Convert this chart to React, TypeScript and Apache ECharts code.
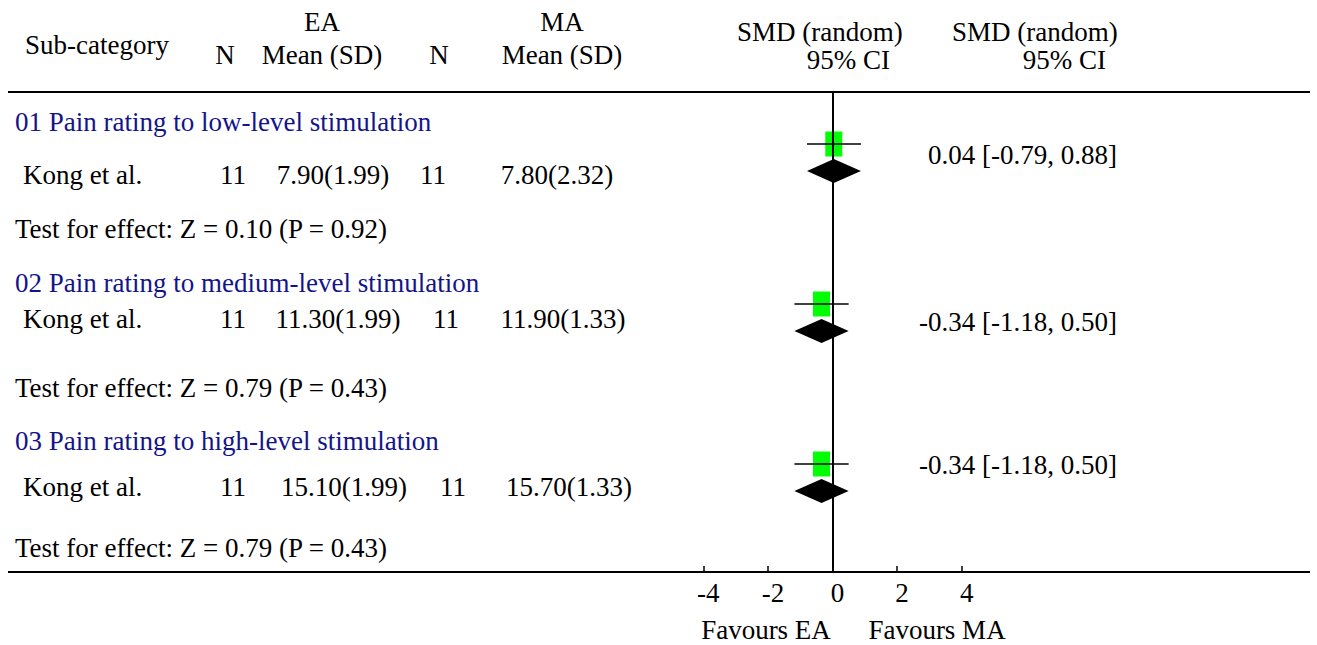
import React, { useEffect, useRef } from "react";
import * as echarts from "echarts";

// ---- data ----
const groupTitles = [
  "01 Pain rating to low-level stimulation",
  "02 Pain rating to medium-level stimulation",
  "03 Pain rating to high-level stimulation",
];
const studyNames = ["Kong et al.", "Kong et al.", "Kong et al."];
const eaN = [11, 11, 11];
const eaMeanSD = ["7.90(1.99)", "11.30(1.99)", "15.10(1.99)"];
const maN = [11, 11, 11];
const maMeanSD = ["7.80(2.32)", "11.90(1.33)", "15.70(1.33)"];
const smd = [0.04, -0.34, -0.34];
const ciLower = [-0.79, -1.18, -1.18];
const ciUpper = [0.88, 0.5, 0.5];
const testTexts = [
  "Test for effect: Z = 0.10 (P = 0.92)",
  "Test for effect: Z = 0.79 (P = 0.43)",
  "Test for effect: Z = 0.79 (P = 0.43)",
];
const xTicks = [-4, -2, 0, 2, 4];
const favourLabels = ["Favours EA", "Favours MA"];

// ---- layout (pixels) ----
const FONT = '"Liberation Serif", "DejaVu Serif", serif';
const FS = 27;
const W = 1317;
const H = 645;
const TOP_RULE = 92;
const BOTTOM_RULE = 572;
const GRID_LEFT = 703.3;
const GRID_RIGHT_X = 961.7;
const rowLayout = [
  { title: 122, study: 175, n1: 233, m1: 333, n2: 433, m2: 557, ci: 155, test: 229, sq: 144, dm: 171 },
  { title: 283, study: 319, n1: 233, m1: 338, n2: 446, m2: 563, ci: 322, test: 388, sq: 304, dm: 331 },
  { title: 441, step: 0, study: 487, n1: 233, m1: 344, n2: 453, m2: 569, ci: 465, test: 548, sq: 464, dm: 491 },
];

const fmt = (v: number) => v.toFixed(2);

function txt(text: string, x: number, y: number, align = "left", color = "#000") {
  return {
    type: "text",
    x,
    y,
    silent: true,
    style: {
      text,
      textAlign: align,
      textVerticalAlign: "middle",
      font: `${FS}px ${FONT}`,
      fill: color,
    },
  };
}

export default function App() {
  const ref = useRef<HTMLDivElement>(null);

  useEffect(() => {
    if (!ref.current) return;
    const chart = echarts.init(ref.current, undefined, { renderer: "svg" });

    const graphics: any[] = [
      { type: "line", shape: { x1: 8, y1: TOP_RULE, x2: 1310, y2: TOP_RULE }, style: { stroke: "#000", lineWidth: 2 } },
      { type: "line", shape: { x1: 8, y1: BOTTOM_RULE, x2: 1310, y2: BOTTOM_RULE }, style: { stroke: "#000", lineWidth: 2 } },
      txt("Sub-category", 25, 45),
      txt("EA", 322, 22, "center"),
      txt("N", 225, 55, "center"),
      txt("Mean (SD)", 322, 55, "center"),
      txt("MA", 562, 22, "center"),
      txt("N", 439, 55, "center"),
      txt("Mean (SD)", 562, 55, "center"),
      txt("SMD (random)", 737, 32),
      txt("95% CI", 890, 59.5, "right"),
      txt("SMD (random)", 952, 32),
      txt("95% CI", 1106, 59.5, "right"),
      txt(favourLabels[0], 766, 630, "center"),
      txt(favourLabels[1], 937, 630, "center"),
    ];
    groupTitles.forEach((t, i) => {
      const L = rowLayout[i];
      graphics.push(txt(t, 15, L.title, "left", "#14148a"));
      graphics.push(txt(studyNames[i], 23, L.study));
      graphics.push(txt(String(eaN[i]), L.n1, L.study, "center"));
      graphics.push(txt(eaMeanSD[i], L.m1, L.study, "center"));
      graphics.push(txt(String(maN[i]), L.n2, L.study, "center"));
      graphics.push(txt(maMeanSD[i], L.m2, L.study, "center"));
      graphics.push(txt(`${fmt(smd[i])} [${fmt(ciLower[i])}, ${fmt(ciUpper[i])}]`, 1117, L.ci, "right"));
      graphics.push(txt(testTexts[i], 15, L.test));
    });

    const data = smd.map((v, i) => [v, ciLower[i], ciUpper[i], rowLayout[i].sq - TOP_RULE, rowLayout[i].dm - TOP_RULE]);

    chart.setOption({
      animation: false,
      grid: {
        left: GRID_LEFT,
        right: W - GRID_RIGHT_X,
        top: TOP_RULE,
        bottom: H - BOTTOM_RULE,
        containLabel: false,
      },
      xAxis: {
        type: "value",
        position: "bottom",
        min: -4,
        max: 4,
        interval: 2,
        splitLine: { show: false },
        axisLine: { show: true, onZero: false, lineStyle: { color: "#000", width: 2 } },
        axisTick: { show: true, inside: true, length: 6, lineStyle: { color: "#000", width: 1.5 } },
        axisLabel: {
          show: true,
          color: "#000",
          fontFamily: FONT,
          fontSize: FS,
          margin: 7,
          padding: [0, 0, 0, 10],
          customValues: xTicks,
          formatter: (v: number) => String(v),
        },
      },
      yAxis: {
        type: "value",
        min: 0,
        max: BOTTOM_RULE - TOP_RULE,
        inverse: true,
        show: false,
      },
      graphic: graphics,
      series: [
        {
          type: "custom",
          data,
          clip: false,
          renderItem: (params: any, api: any) => {
            const v = api.value(0);
            const lo = api.value(1);
            const hi = api.value(2);
            const sy = api.value(3);
            const dy = api.value(4);
            const pC = api.coord([v, sy]);
            const pL = api.coord([lo, sy]);
            const pH = api.coord([hi, sy]);
            const dC = api.coord([v, dy]);
            const dL = api.coord([lo, dy]);
            const dH = api.coord([hi, dy]);
            return {
              type: "group",
              children: [
                {
                  type: "rect",
                  shape: { x: pC[0] - 8.5, y: pC[1] - 12.5, width: 17, height: 25 },
                  style: { fill: "#00ff00" },
                },
                {
                  type: "line",
                  shape: { x1: pL[0], y1: pL[1], x2: pH[0], y2: pH[1] },
                  style: { stroke: "#000", lineWidth: 1.5 },
                },
                {
                  type: "polygon",
                  shape: {
                    points: [
                      [dL[0], dL[1]],
                      [dC[0], dC[1] - 12],
                      [dH[0], dH[1]],
                      [dC[0], dC[1] + 12],
                    ],
                  },
                  style: { fill: "#000" },
                },
              ],
            };
          },
          markLine: {
            silent: true,
            symbol: "none",
            label: { show: false },
            lineStyle: { color: "#000", width: 2, type: "solid" },
            data: [{ xAxis: 0 }],
          },
          z: 3,
        },
      ],
    });

    return () => chart.dispose();
  }, []);

  return (
    <div
      ref={ref}
      style={{ position: "fixed", left: 0, top: 0, width: W, height: H, background: "#fff" }}
    />
  );
}
